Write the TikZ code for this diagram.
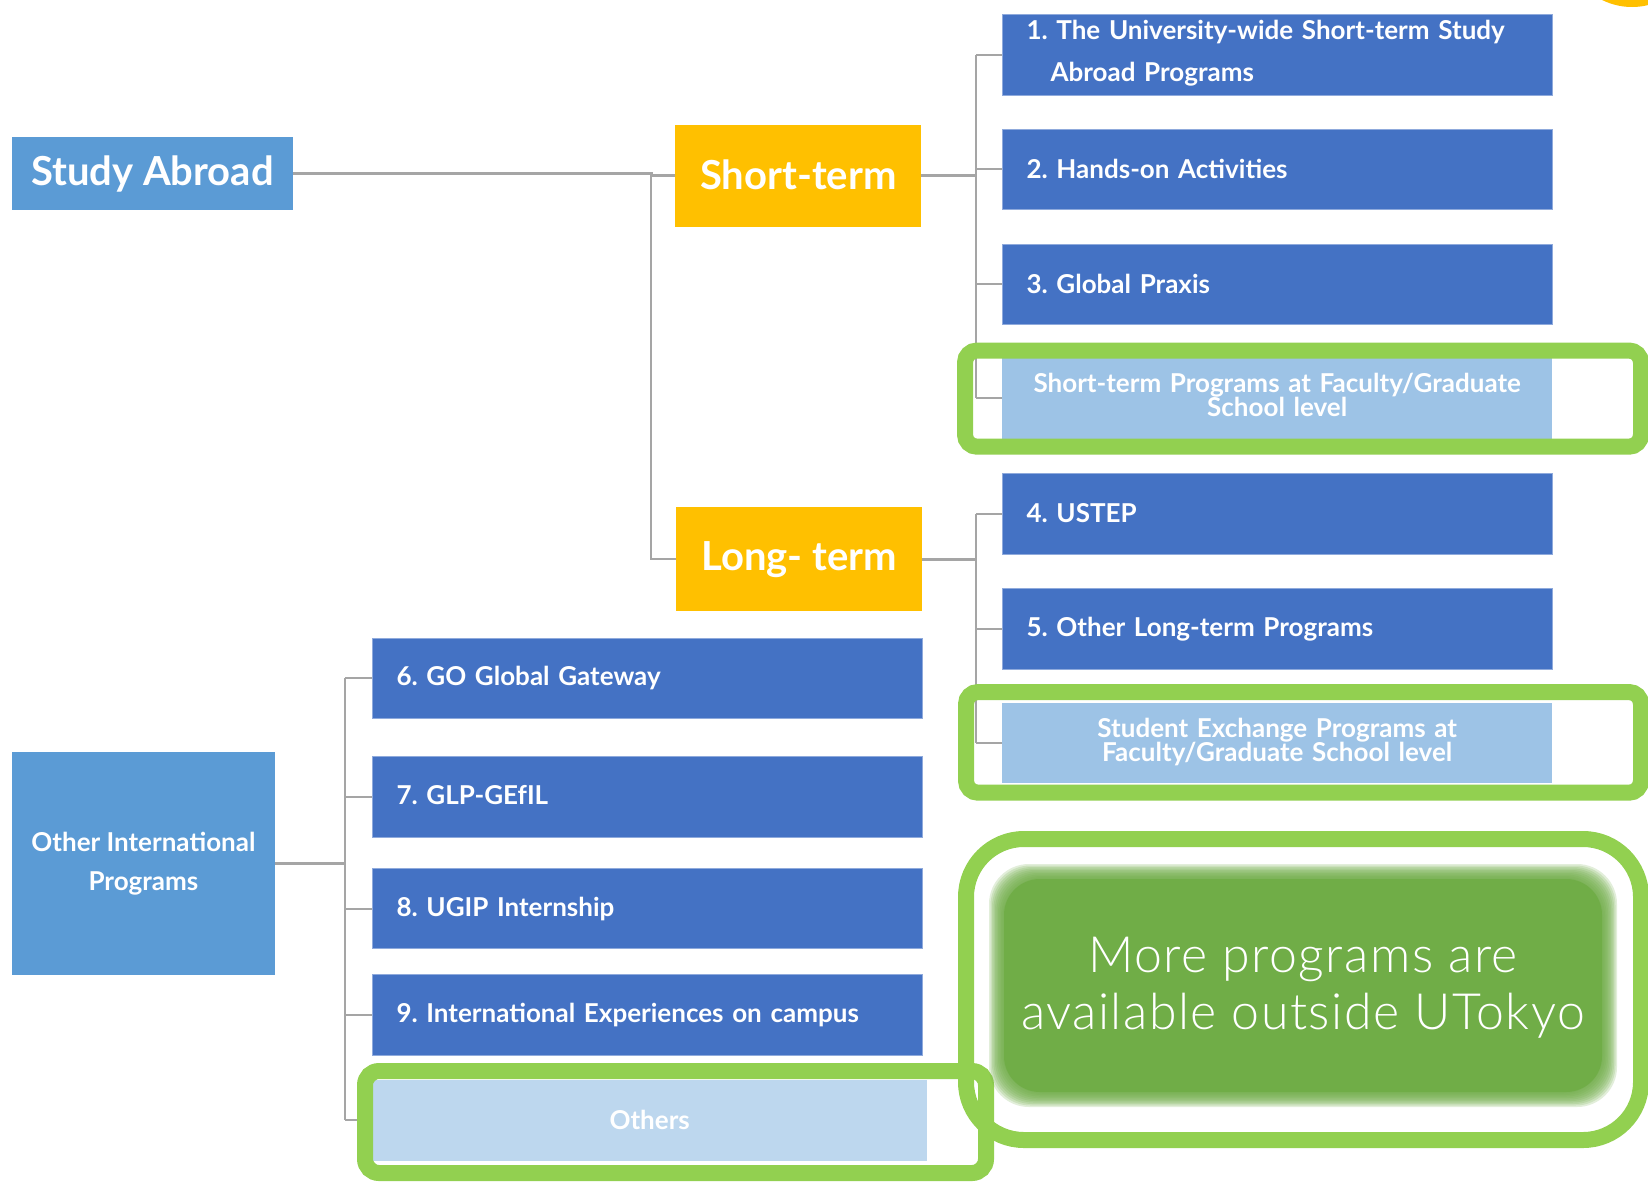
\documentclass[tikz,border=0pt]{standalone}
\usepackage{fontspec}
\setmainfont{Lato}
\newfontfamily\thinfont{Lato Light}[LetterSpace=3]
\definecolor{dblue}{HTML}{4472C4}
\definecolor{lblue}{HTML}{9DC3E6}
\definecolor{llblue}{HTML}{BDD7EE}
\definecolor{mblue}{HTML}{5B9BD5}
\definecolor{orng}{HTML}{FFC000}
\definecolor{gframe}{HTML}{92D050}
\definecolor{ginner}{HTML}{70AD47}
\definecolor{conn}{HTML}{A5A5A5}
\frenchspacing
\tikzset{
  cell/.style={anchor=north west, inner ysep=0pt, text=white, font=\bfseries\fontsize{26}{30}\selectfont},
  progbox/.style={cell, fill=dblue, draw=dblue!60!white, line width=1pt, minimum height=80.7pt, text width=502pt, inner xsep=24pt, align=left},
  facbox/.style={cell, fill=lblue, minimum height=80.7pt, text width=502pt, inner xsep=24pt, align=center},
  headbox/.style={cell, fill=mblue, inner xsep=0pt, align=center},
  termbox/.style={cell, fill=orng, inner xsep=0pt, align=center, font=\bfseries\fontsize{40}{44}\selectfont},
  mainline/.style={draw=conn, line width=3pt},
  tickline/.style={draw=conn, line width=2pt},
  gframebox/.style={draw=gframe, line width=16pt}
}
\begin{document}
\begin{tikzpicture}[x=1pt,y=-1pt]
\useasboundingbox (0,0) rectangle (1648,1183);
\fill[white] (0,0) rectangle (1648,1183);
% orange blob top right
\begin{scope}
\clip (0,0) rectangle (1648,1183);
\fill[orng] (1632,-60) circle (67);
\end{scope}

% coordinates for spines
\coordinate (jx) at (651,0);
\coordinate (rx) at (976,0);
\coordinate (lx) at (345,0);

% head nodes
\node[headbox, minimum width=281.5pt, minimum height=73pt, font=\bfseries\fontsize{40}{44}\selectfont] (sa) at (11.5,137) {Study Abroad};
\node[termbox, minimum width=246pt, minimum height=102pt] (st) at (675,124.5) {\raisebox{3pt}{Short-term}};
\node[termbox, minimum width=246pt, minimum height=104pt] (lt) at (676,507) {Long- term};
\node[headbox, minimum width=263.5pt, minimum height=223pt, font=\bfseries\fontsize{26}{39}\selectfont] (oip) at (11.5,752) {Other International\\Programs};

% right column
\node[progbox] (b1) at (1002,13.8) {\raisebox{4pt}{\begin{tabular}{@{}l@{}}1. The University-wide Short-term Study\\[12pt]\hspace*{24pt}Abroad Programs\end{tabular}}};
\node[progbox] (b2) at (1002,128.5) {\raisebox{2pt}{2. Hands-on Activities}};
\node[progbox] (b3) at (1002,243.6) {\raisebox{2pt}{3. Global Praxis}};
\node[facbox] (sf) at (1002,357.9) {\raisebox{5pt}{\begin{tabular}{@{}c@{}}Short-term Programs at Faculty/Graduate\\[-6pt]School level\end{tabular}}};
\node[progbox] (b4) at (1002,473) {\raisebox{2pt}{4. USTEP}};
\node[progbox] (b5) at (1002,588) {\raisebox{2pt}{5. Other Long-term Programs}};
\node[facbox] (se) at (1002,702.5) {\raisebox{5pt}{\begin{tabular}{@{}c@{}}Student Exchange Programs at\\[-6pt]Faculty/Graduate School level\end{tabular}}};

% left column
\node[progbox] (b6) at (372,637.5) {6. GO Global Gateway};
\node[progbox] (b7) at (372,755.8) {\raisebox{4pt}{7. GLP-GEfIL}};
\node[progbox] (b8) at (372,867.7) {8. UGIP Internship};
\node[progbox] (b9) at (372,974) {9. International Experiences on campus};
\node[facbox, fill=llblue, text width=507pt] (ot) at (372,1079.6) {Others};

% connectors: Study Abroad
\draw[mainline] (sa.east) -- (jx |- sa.east) -- (jx |- st.west) -- (st.west);
\draw[tickline] (jx |- st.west) |- (lt.west);
% short-term tree
\draw[mainline] (st.east) -- (rx |- st.east);
\draw[tickline] (rx |- b1.west) -- (rx |- sf.west);
\foreach \n in {b1,b2,b3,sf} \draw[tickline] (rx |- \n.west) -- (\n.west);
% long-term tree
\draw[mainline] (lt.east) -- (rx |- lt.east);
\draw[tickline] (rx |- b4.west) -- (rx |- se.west);
\foreach \n in {b4,b5,se} \draw[tickline] (rx |- \n.west) -- (\n.west);
% other international tree
\draw[mainline] (oip.east) -- (lx |- oip.east);
\draw[tickline] (lx |- b6.west) -- (lx |- ot.west);
\foreach \n in {b6,b7,b8,b9,ot} \draw[tickline] (lx |- \n.west) -- (\n.west);

% green frames
\draw[gframebox, rounded corners=12pt] (965,350.5) rectangle (1641,446.7);
\draw[gframebox, rounded corners=12pt] (966,692) rectangle (1641,792.7);
\draw[gframebox, rounded corners=58pt] (966,839) rectangle (1641,1140);
\draw[gframebox, rounded corners=14pt] (365,1071) rectangle (986,1173);

% blurred inner green panel
\foreach \i in {0,...,9} {
  \fill[ginner, opacity=0.2, rounded corners=40pt]
    ({996-7+\i*1.5},{871-7+\i*1.5}) rectangle ({1610+7-\i*1.5},{1100+7-\i*1.5});
}
\fill[ginner, rounded corners=36pt] (1004,879) rectangle (1602,1092);
\node[text=white, align=center, font=\thinfont\fontsize{50}{57}\selectfont] (more) at (1303,988) {More programs are\\available outside UTokyo};
\end{tikzpicture}
\end{document}
